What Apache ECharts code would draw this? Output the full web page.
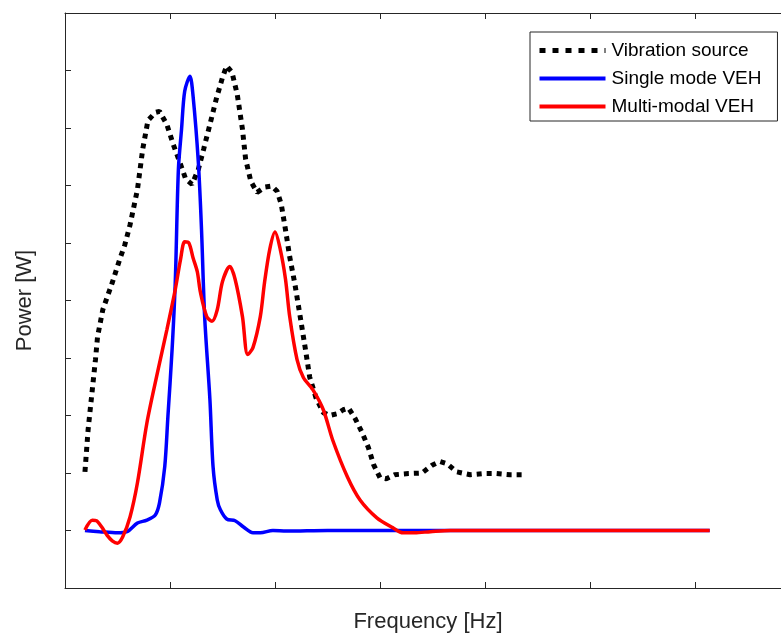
<!DOCTYPE html>
<html>
<head>
<meta charset="utf-8">
<script src="https://cdn.jsdelivr.net/npm/echarts@6/dist/echarts.min.js"></script>
<style>html,body{margin:0;padding:0;background:#fff}#c{width:781px;height:635px}</style>
</head>
<body>
<div id="c"></div>
<script>
// Frequency (arbitrary units) / Power (arbitrary units)
var vibrationSource = [
 [0.19,1.02],[0.22,1.75],[0.26,2.45],[0.29,2.97],[0.31,3.37],[0.36,3.84],[0.45,4.31],[0.52,4.71],
 [0.57,4.97],[0.62,5.32],[0.69,5.93],[0.74,6.63],[0.79,7.13],[0.86,7.27],[0.90,7.29],[0.97,7.06],
 [1.03,6.72],[1.10,6.37],[1.15,6.11],[1.21,6.02],[1.27,6.28],[1.32,6.63],[1.38,7.06],[1.44,7.50],
 [1.50,7.88],[1.54,8.08],[1.59,7.97],[1.64,7.59],[1.69,6.98],[1.72,6.46],[1.77,6.07],[1.83,5.88],
 [1.90,5.97],[1.97,5.99],[2.02,5.90],[2.06,5.67],[2.10,5.23],[2.14,4.76],[2.19,4.28],[2.24,3.72],
 [2.29,3.15],[2.33,2.67],[2.39,2.31],[2.46,2.05],[2.52,2.00],[2.59,2.03],[2.65,2.10],[2.70,2.13],
 [2.76,1.96],[2.83,1.70],[2.89,1.44],[2.94,1.14],[3.00,0.92],[3.06,0.90],[3.14,0.97],[3.27,0.99],
 [3.40,1.00],[3.50,1.14],[3.57,1.20],[3.64,1.16],[3.73,1.02],[3.86,0.97],[3.98,0.99],[4.11,0.99],
 [4.24,0.97],[4.35,0.97]
];
var singleModeVEH = [
 [0.19,0.00],[0.33,-0.02],[0.50,-0.04],[0.59,-0.02],[0.69,0.13],[0.78,0.18],[0.86,0.27],[0.90,0.48],
 [0.95,1.11],[0.98,1.98],[1.02,3.15],[1.05,4.31],[1.08,6.28],[1.11,6.98],[1.14,7.64],[1.19,7.90],
 [1.22,7.55],[1.27,6.40],[1.30,5.24],[1.33,3.72],[1.38,2.28],[1.41,1.11],[1.45,0.53],[1.48,0.36],
 [1.54,0.20],[1.62,0.17],[1.70,0.06],[1.79,-0.04],[1.86,-0.04],[1.98,0.00],[2.11,-0.01],[2.50,0.00],
 [3.00,0.00],[3.40,0.00],[4.00,0.00],[5.00,0.00],[6.14,0.00]
];
var multiModalVEH = [
 [0.19,0.01],[0.26,0.18],[0.30,0.17],[0.35,0.06],[0.40,-0.08],[0.45,-0.18],[0.50,-0.22],[0.55,-0.11],
 [0.62,0.24],[0.69,0.83],[0.78,1.87],[0.88,2.74],[0.97,3.49],[1.05,4.19],[1.10,4.71],[1.14,5.02],
 [1.18,5.00],[1.22,4.74],[1.26,4.50],[1.29,4.14],[1.35,3.72],[1.40,3.64],[1.45,3.84],[1.50,4.33],
 [1.57,4.59],[1.62,4.37],[1.69,3.72],[1.74,3.06],[1.79,3.18],[1.86,3.72],[1.90,4.31],[1.95,4.89],
 [2.00,5.19],[2.05,4.89],[2.10,4.37],[2.14,3.72],[2.21,2.97],[2.27,2.66],[2.36,2.45],[2.46,2.10],
 [2.55,1.57],[2.69,0.93],[2.81,0.53],[2.97,0.22],[3.12,0.05],[3.22,-0.04],[3.33,-0.04],[3.48,-0.02],
 [3.67,0.00],[4.50,0.00],[5.50,0.00],[6.14,0.00]
];
var seriesNames = ['Vibration source','Single mode VEH','Multi-modal VEH'];
var xLabel = 'Frequency [Hz]';
var yLabel = 'Power [W]';

var axisColor = '#262626';
var font = 'Liberation Sans, Arial, Helvetica, sans-serif';
var chart = echarts.init(document.getElementById('c'), null, {renderer:'canvas'});
var hidden = {show:false};
function boxAxis(pos, extra) {
  var a = {type:'value', min:0, max:6.819, interval:1, position:pos,
     axisLine:{show:true, onZero:false, lineStyle:{color:axisColor, width:1}},
     axisTick:{show:true, inside:true, length:6, lineStyle:{color:axisColor}},
     axisLabel:hidden, splitLine:hidden};
  for (var k in extra) a[k] = extra[k];
  return a;
}
chart.setOption({
  animation:false,
  backgroundColor:'#ffffff',
  grid:{left:65, top:13, right:0, bottom:47, containLabel:false, outerBoundsMode:'none'},
  xAxis:[
    boxAxis('bottom', {name:xLabel, nameLocation:'middle', nameGap:23,
     nameTextStyle:{color:axisColor, fontSize:22, fontFamily:font, padding:[0,0,0,10]}}),
    boxAxis('top', {})
  ],
  yAxis:[
    {type:'value', min:-1, max:9, interval:1, position:'left',
     name:yLabel, nameLocation:'middle', nameGap:29, nameRotate:90,
     nameTextStyle:{color:axisColor, fontSize:22, fontFamily:font},
     axisLine:{show:true, onZero:false, lineStyle:{color:axisColor, width:1}},
     axisTick:{show:true, inside:true, length:6, lineStyle:{color:axisColor}},
     axisLabel:hidden, splitLine:hidden}
  ],
  legend:{
    orient:'vertical', left:530, top:32,
    data:[
      {name:seriesNames[0], lineStyle:{width:5, type:[6,7], cap:'butt'}},
      {name:seriesNames[1], lineStyle:{width:4}},
      {name:seriesNames[2], lineStyle:{width:4}}
    ],
    itemWidth:66, itemHeight:14, itemGap:9,
    padding:[9,16,5,7],
    borderColor:axisColor, borderWidth:1, backgroundColor:'#ffffff',
    itemStyle:{opacity:0},
    textStyle:{color:'#000000', fontSize:19, fontFamily:font, padding:[0,0,0,1]}
  },
  series:[
    {name:seriesNames[0], type:'line', data:vibrationSource, symbol:'none', smooth:false,
     lineStyle:{color:'#000000', width:5, type:[5,5], cap:'butt'}, itemStyle:{color:'#000000'}, z:3},
    {name:seriesNames[1], type:'line', data:singleModeVEH, symbol:'none', smooth:0.3,
     lineStyle:{color:'#0000ff', width:3.5}, itemStyle:{color:'#0000ff'}, z:4},
    {name:seriesNames[2], type:'line', data:multiModalVEH, symbol:'none', smooth:0.3,
     lineStyle:{color:'#ff0000', width:3.5}, itemStyle:{color:'#ff0000'}, z:5}
  ]
});
</script>
</body>
</html>
